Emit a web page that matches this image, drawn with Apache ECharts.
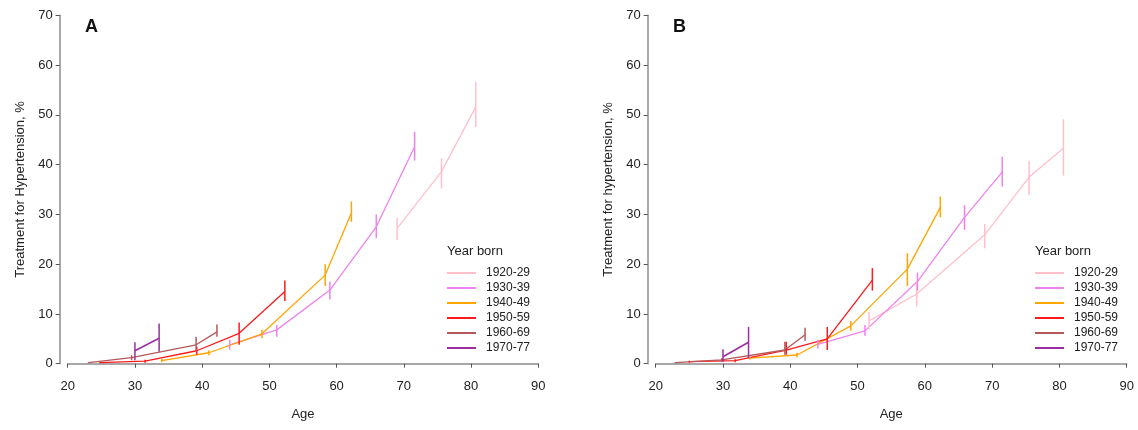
<!DOCTYPE html>
<html>
<head>
<meta charset="utf-8">
<script src="https://cdn.jsdelivr.net/npm/echarts@6/dist/echarts.min.js"></script>
<style>html,body{margin:0;padding:0;background:#fff}#c{width:1138px;height:430px}</style>
</head>
<body>
<div id="c"></div>
<script>
// Cohorts (legend)
const cohorts = ['1920-29', '1930-39', '1940-49', '1950-59', '1960-69', '1970-77'];
// Axis ticks
const xTicks = [20, 30, 40, 50, 60, 70, 80, 90];
const yTicks = [0, 10, 20, 30, 40, 50, 60, 70];

// Panel A: [age, value %, lower CI, upper CI]
const A_1920_29 = [[69.0, 27.2, 24.9, 29.3], [75.6, 38.6, 35.2, 41.3], [80.7, 51.6, 47.5, 56.6]];
const A_1930_39 = [[44.1, 3.8, 2.8, 4.8], [51.1, 6.8, 5.4, 7.8], [59.0, 14.8, 12.9, 16.5], [65.9, 27.5, 25.2, 30.0], [71.6, 43.6, 40.8, 46.6]];
const A_1940_49 = [[34.0, 0.6, 0.3, 1.0], [41.0, 2.2, 1.7, 2.7], [48.9, 6.0, 5.1, 6.8], [58.3, 17.8, 15.6, 20.0], [62.2, 30.3, 28.5, 32.6]];
const A_1950_59 = [[24.8, 0.2, 0.1, 0.35], [31.5, 0.5, 0.2, 0.8], [39.2, 2.6, 1.8, 3.4], [45.5, 6.1, 3.8, 8.3], [52.3, 14.5, 12.6, 16.7]];
const A_1960_69 = [[23.1, 0.2, 0.1, 0.3], [29.5, 1.2, 0.7, 1.7], [39.1, 3.8, 2.3, 5.4], [42.2, 6.4, 5.4, 7.9]];
const A_1970_77 = [[30.0, 2.6, 0.7, 4.3], [33.6, 5.1, 2.4, 8.1]];

// Panel B: [age, value %, lower CI, upper CI]
const B_1920_29 = [[51.7, 8.6, 6.8, 10.4], [58.8, 14.0, 11.5, 16.5], [68.9, 25.9, 23.2, 28.1], [75.5, 37.5, 33.9, 40.8], [80.6, 43.3, 37.8, 49.1]];
const B_1930_39 = [[44.1, 3.9, 3.0, 4.8], [51.1, 6.6, 5.6, 7.8], [58.9, 16.5, 14.7, 18.3], [65.9, 29.4, 26.9, 31.9], [71.5, 38.5, 35.6, 41.6]];
const B_1940_49 = [[34.0, 1.1, 0.8, 1.4], [41.0, 1.75, 1.3, 2.2], [49.0, 7.6, 6.6, 8.6], [57.4, 19.0, 15.6, 22.2], [62.3, 31.4, 29.4, 33.6]];
const B_1950_59 = [[25.0, 0.4, 0.2, 0.6], [31.8, 0.6, 0.3, 0.9], [39.4, 2.75, 1.8, 4.4], [45.5, 5.0, 2.75, 7.4], [52.2, 16.8, 14.7, 19.2]];
const B_1960_69 = [[22.9, 0.2, 0.1, 0.3], [29.8, 0.75, 0.4, 1.1], [39.2, 2.75, 1.8, 4.4], [42.2, 5.8, 4.6, 7.2]];
const B_1970_77 = [[30.0, 1.4, 0.4, 2.9], [33.8, 4.3, 1.1, 7.4]];

const panelA = [A_1920_29, A_1930_39, A_1940_49, A_1950_59, A_1960_69, A_1970_77];
const panelB = [B_1920_29, B_1930_39, B_1940_49, B_1950_59, B_1960_69, B_1970_77];

// Styles
const colors = ['#ffc0cb', '#ee82ee', '#ffa500', '#ff1a1a', '#b5585a', '#9a2fa0'];
const FONT = 'Liberation Sans, Arial, Helvetica, sans-serif';

const series = [];
function addPanel(panel, idx) {
  panel.forEach((d, i) => {
    const col = colors[i];
    series.push({
      type: 'line', name: cohorts[i], xAxisIndex: idx, yAxisIndex: idx,
      data: d.map(r => [r[0], r[1]]),
      showSymbol: false, symbol: 'none', silent: true,
      lineStyle: { color: col, width: i === 5 ? 1.6 : 1.3 },
      itemStyle: { color: col }, z: 2
    });
    series.push({
      type: 'custom', name: cohorts[i], xAxisIndex: idx, yAxisIndex: idx,
      data: d.map(r => [r[0], r[2], r[3]]),
      encode: { x: 0, y: [1, 2] }, silent: true, z: 3,
      renderItem: function (params, api) {
        const p1 = api.coord([api.value(0), api.value(1)]);
        const p2 = api.coord([api.value(0), api.value(2)]);
        return { type: 'line', shape: { x1: p1[0], y1: p1[1], x2: p2[0], y2: p2[1] },
          style: { stroke: col, lineWidth: 1.5 } };
      }
    });
  });
}
addPanel(panelA, 0);
addPanel(panelB, 1);

function xAxis(idx) {
  return {
    type: 'value', gridIndex: idx, min: xTicks[0], max: xTicks[xTicks.length - 1], interval: 10,
    offset: 6, name: 'Age', nameLocation: 'middle', nameGap: 38,
    nameTextStyle: { fontFamily: FONT, fontSize: 13, color: '#222' },
    axisLine: { show: true, lineStyle: { color: '#8c8c8c', width: 1.5 } },
    axisTick: { show: true, length: 4, lineStyle: { color: '#555' } },
    axisLabel: { margin: 10, fontFamily: FONT, fontSize: 13, color: '#222' },
    splitLine: { show: false }
  };
}
function yAxis(idx, name) {
  return {
    type: 'value', gridIndex: idx, min: yTicks[0], max: yTicks[yTicks.length - 1], interval: 10,
    offset: 8, name: name, nameLocation: 'middle', nameGap: 33,
    nameTextStyle: { fontFamily: FONT, fontSize: 13, color: '#222' },
    axisLine: { show: true, lineStyle: { color: '#8c8c8c', width: 1.5 } },
    axisTick: { show: true, length: 4, lineStyle: { color: '#555' } },
    axisLabel: { margin: 7, fontFamily: FONT, fontSize: 13, color: '#222' },
    splitLine: { show: false }
  };
}
function legend(left) {
  return {
    orient: 'vertical', left: left, top: 262, itemWidth: 29, itemHeight: 2, itemGap: 3,
    icon: 'rect', selectedMode: false, data: cohorts,
    textStyle: { fontFamily: FONT, fontSize: 12, color: '#222', lineHeight: 12, padding: [0, 0, 0, 5] }
  };
}

const option = {
  animation: false,
  backgroundColor: '#fff',
  title: [
    { text: 'A', left: 80, top: 13, textStyle: { fontFamily: FONT, fontSize: 18, fontWeight: 'bold', color: '#111' } },
    { text: 'B', left: 668, top: 13, textStyle: { fontFamily: FONT, fontSize: 18, fontWeight: 'bold', color: '#111' } },
    { text: 'Year born', left: 442, top: 240, textStyle: { fontFamily: FONT, fontSize: 13, fontWeight: 'normal', color: '#222' } },
    { text: 'Year born', left: 1030, top: 240, textStyle: { fontFamily: FONT, fontSize: 13, fontWeight: 'normal', color: '#222' } }
  ],
  grid: [
    { left: 67.7, top: 15.3, width: 470.6, height: 348.4 },
    { left: 655.7, top: 15.3, width: 471, height: 348.4 }
  ],
  xAxis: [xAxis(0), xAxis(1)],
  yAxis: [yAxis(0, 'Treatment for Hypertension, %'), yAxis(1, 'Treatment for hypertension, %')],
  legend: [legend(442), legend(1030)],
  series: series
};

const chart = echarts.init(document.getElementById('c'), null, { renderer: 'canvas' });
chart.setOption(option);
</script>
</body>
</html>
